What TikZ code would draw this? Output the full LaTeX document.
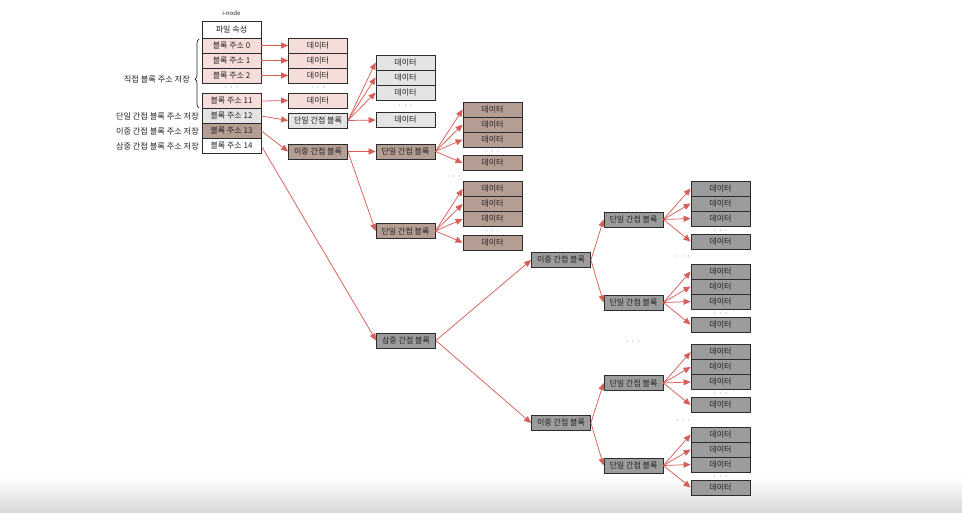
\documentclass[tikz,border=0pt]{standalone}
\usepackage{fontspec}
\setmainfont{Noto Sans CJK KR}
\usetikzlibrary{arrows.meta,decorations.pathreplacing}

\definecolor{pinkfill}{HTML}{F7DDD9}
\definecolor{lightfill}{HTML}{E4E4E4}
\definecolor{brownfill}{HTML}{B49D93}
\definecolor{greyfill}{HTML}{9C9C9C}
\definecolor{boxline}{HTML}{2C2C2C}
\definecolor{txt}{HTML}{222222}
\definecolor{arrowred}{HTML}{D65E58}

\newcommand{\threedots}{$\cdot\,\cdot\,\cdot$}

\begin{document}
\begin{tikzpicture}[x=1pt,y=-1pt,
  blk/.style={draw=boxline, line width=0.8pt, minimum width=59pt, minimum height=15pt,
    inner sep=0pt, font=\fontsize{8}{9}\selectfont, text=txt},
  whiteblk/.style={blk, fill=white},
  pinkblk/.style={blk, fill=pinkfill},
  lightblk/.style={blk, fill=lightfill},
  brownblk/.style={blk, fill=brownfill},
  greyblk/.style={blk, fill=greyfill},
  lbl/.style={anchor=east, inner sep=0pt, font=\fontsize{8.2}{9}\selectfont, text=txt},
  dots/.style={inner sep=0pt, font=\fontsize{8}{8}\selectfont, text=txt},
  link/.style={draw=arrowred, line width=0.75pt, -{Triangle[length=7pt,width=6pt]}}]

\useasboundingbox (0,0) rectangle (962,512);
% soft grey band along the bottom edge
\shade[top color=white, bottom color=black!15] (0,476) rectangle (962,512);

% ---------- i-node ----------
\node[inner sep=0pt, font=\fontsize{6}{6}\selectfont, text=txt] (inodelbl) at (231.5,13) {i-node};
\node[whiteblk, minimum height=17pt] (attr) at (231.5,29.5) {파일 속성};
\node[pinkblk] (a0) at (231.5,45.5) {블록 주소 0};
\node[pinkblk] (a1) at (231.5,60.5) {블록 주소 1};
\node[pinkblk] (a2) at (231.5,75.5) {블록 주소 2};
\node[dots] (adots) at (231.5,88) {\threedots};
\node[pinkblk] (a11) at (231.5,101) {블록 주소 11};
\node[lightblk] (a12) at (231.5,116) {블록 주소 12};
\node[brownblk] (a13) at (231.5,131) {블록 주소 13};
\node[whiteblk] (a14) at (231.5,146) {블록 주소 14};

% labels on the left
\draw[line width=0.7pt, color=txt, decorate, decoration={brace, amplitude=4pt, aspect=0.42}]
  (199,108) -- (199,39);
\node[lbl] (ldirect) at (190,79) {직접 블록 주소 저장};
\node[lbl] (lsingle) at (199,116) {단일 간접 블록 주소 저장};
\node[lbl] (ldouble) at (199,131) {이중 간접 블록 주소 저장};
\node[lbl] (ltriple) at (199,146) {삼중 간접 블록 주소 저장};

% ---------- direct data blocks ----------
\node[pinkblk] (d0) at (318,45.5) {데이터};
\node[pinkblk] (d1) at (318,60.5) {데이터};
\node[pinkblk] (d2) at (318,75.5) {데이터};
\node[dots] (ddots) at (318,88) {\threedots};
\node[pinkblk] (d11) at (318,100.5) {데이터};
\draw[link] (a0.east) -- (d0.west);
\draw[link] (a1.east) -- (d1.west);
\draw[link] (a2.east) -- (d2.west);
\draw[link] (a11.east) -- (d11.west);

% ---------- single indirect ----------
\node[lightblk] (s1) at (318,120.5) {단일 간접 블록};
\draw[link] (a12.east) -- (s1.west);
\foreach \i/\y in {1/62.5, 2/77.5, 3/92.5, 4/120} {
  \node[lightblk] (s1d\i) at (405.5,\y) {데이터};
  \draw[link] (s1.east) -- (s1d\i.west);
}
\node[dots] (s1dots) at (405.5,106) {\threedots};

% ---------- double indirect ----------
\node[brownblk] (db) at (318,151.5) {이중 간접 블록};
\draw[link] (a13.east) -- (db.west);
\node[brownblk] (dbs1) at (405.5,151.5) {단일 간접 블록};
\node[brownblk] (dbs2) at (405.5,231) {단일 간접 블록};
\draw[link] (db.east) -- (dbs1.west);
\draw[link] (db.east) -- (dbs2.west);
\foreach \g/\c in {1/151.5, 2/231} {
  \foreach \i/\o in {1/-42, 2/-27, 3/-12, 4/11.5} {
    \node[brownblk] (dbs\g d\i) at (492.5,\c+\o) {데이터};
    \draw[link] (dbs\g.east) -- (dbs\g d\i.west);
  }
  \node[dots] (dbs\g dots) at (492.5,\c) {\threedots};
}
\node[dots] (dbgap) at (454,177) {\threedots};

% ---------- triple indirect ----------
\node[greyblk] (tb) at (406,340.5) {삼중 간접 블록};
\draw[link] (a14.east) -- (tb.west);
\node[greyblk] (tdb1) at (561,260) {이중 간접 블록};
\node[greyblk] (tdb2) at (561,423) {이중 간접 블록};
\draw[link] (tb.east) -- (tdb1.west);
\draw[link] (tb.east) -- (tdb2.west);
\node[greyblk] (ts1) at (633.5,219.5) {단일 간접 블록};
\node[greyblk] (ts2) at (633.5,302.5) {단일 간접 블록};
\node[greyblk] (ts3) at (633.5,383) {단일 간접 블록};
\node[greyblk] (ts4) at (633.5,465.5) {단일 간접 블록};
\draw[link] (tdb1.east) -- (ts1.west);
\draw[link] (tdb1.east) -- (ts2.west);
\draw[link] (tdb2.east) -- (ts3.west);
\draw[link] (tdb2.east) -- (ts4.west);
\foreach \g/\c in {1/219.5, 2/302.5, 3/383, 4/465.5} {
  \foreach \i/\o in {1/-31, 2/-16, 3/-1, 4/22} {
    \node[greyblk] (ts\g d\i) at (720.5,\c+\o) {데이터};
    \draw[link] (ts\g.east) -- (ts\g d\i.west);
  }
  \node[dots] (ts\g dots) at (720.5,\c+11) {\threedots};
}
\node[dots] (tgap1) at (683,257) {\threedots};
\node[dots] (tgap2) at (633,342) {\threedots};
\node[dots] (tgap3) at (683,421) {\threedots};
\end{tikzpicture}
\end{document}
